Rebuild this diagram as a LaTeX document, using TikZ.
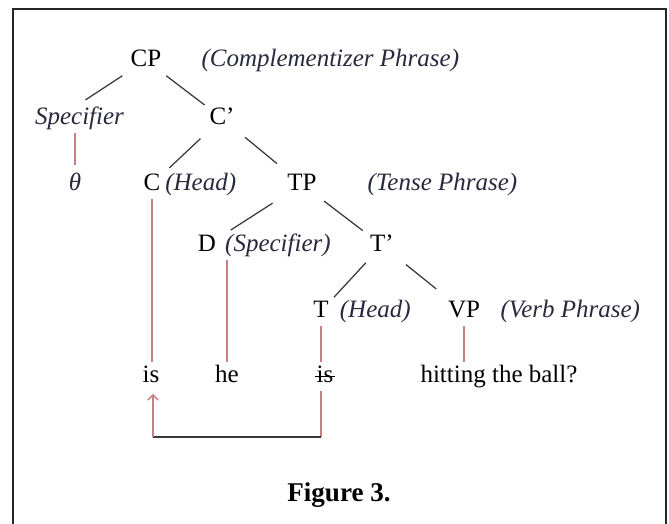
\documentclass[tikz,border=0pt]{standalone}
\usepackage{fontspec}
\setmainfont{Liberation Serif}
\usetikzlibrary{positioning, calc, arrows.meta}
\definecolor{framegray}{rgb}{0.15, 0.15, 0.15}
\definecolor{branchgray}{rgb}{0.22, 0.22, 0.22}
\definecolor{stemrose}{rgb}{0.78, 0.50, 0.50}
\definecolor{glossslate}{rgb}{0.16, 0.16, 0.24}

\tikzset{
    cat/.style={inner sep=1pt, text height=8.5pt, text depth=3pt, font=\fontsize{12pt}{14pt}\selectfont},
    gloss/.style={cat, font=\fontsize{12pt}{14pt}\selectfont\itshape, text=glossslate},
    branch/.style={draw=branchgray, line width=0.6pt, shorten <=#1, shorten >=#1},
    branch/.default=3pt,
    stem/.style={draw=stemrose, line width=0.7pt},
}

\begin{document}
\begin{tikzpicture}[x=0.48pt, y=-0.48pt]
    \useasboundingbox (0,0) rectangle (669,524);
    \draw[framegray, line width=1.3pt] (13,530) -- (13,9) -- (666,9) -- (666,530);

    % categories, row by row
    \node[cat, anchor=base] (CP) at (146,66) {CP};
    \node[gloss, anchor=base west] (CPgloss) at (199,66) {(Complementizer Phrase)};

    \node[gloss, anchor=base] (Spec) at (79.5,124) {Specifier};
    \node[cat, anchor=base] (Cbar) at (222,124) {C’};

    \node[gloss, anchor=base] (th) at (75,190) {θ};
    \node[cat, anchor=base] (C) at (152,190) {C};
    \node[gloss, right=0pt of C] (Chead) {(Head)};
    \node[cat, anchor=base] (TP) at (302,190) {TP};
    \node[gloss, anchor=base west] (TPgloss) at (365,190) {(Tense Phrase)};

    \node[cat, anchor=base] (D) at (207,251) {D};
    \node[gloss, right=2pt of D] (Dspec) {(Specifier)};
    \node[cat, anchor=base] (Tbar) at (382,251) {T’};

    \node[cat, anchor=base] (T) at (321,317) {T};
    \node[gloss, right=3pt of T] (Thead) {(Head)};
    \node[cat, anchor=base] (VP) at (464,317) {VP};
    \node[gloss, anchor=base west] (VPgloss) at (498,317) {(Verb Phrase)};

    % the sentence
    \node[cat, anchor=base] (is) at (151,382) {is};
    \node[cat, anchor=base] (he) at (227,382) {he};
    \node[cat, anchor=base] (sis) at (325,382) {is};
    \node[cat, anchor=base] (hit) at (499,382) {hitting the ball?};
    \draw[line width=0.5pt] ($(sis.base west)+(1,-5.5)$) -- ($(sis.base east)+(-1,-5.5)$);

    \node[anchor=base, font=\fontsize{13pt}{15pt}\selectfont\bfseries] (fig) at (339,501) {Figure 3.};

    % branches
    \draw[branch=3.4pt] (CP) -- (Spec.north);
    \draw[branch=1.5pt] (CP) -- (Cbar);
    \draw[branch=4.3pt] (Cbar) -- (C);
    \draw[branch=5pt] (Cbar) -- (TP);
    \draw[branch=7pt] (TP) -- (D);
    \draw[branch=3pt] (TP) -- (Tbar);
    \draw[branch=2pt] (Tbar) -- (T);
    \draw[branch=6pt] (Tbar) -- (VP);

    % down to the words
    \draw[stem, shorten >=2.5pt] (th |- Spec.south) -- (th);
    \draw[stem] (C) -- (C |- is.north);
    \draw[stem] (he |- D.south) -- (he);
    \draw[stem] (T) -- (T |- sis.north);
    \draw[stem] (VP) -- (VP |- hit.north);

    % T-to-C movement
    \coordinate (mvR) at (321,437);
    \coordinate (mvL) at (153,437);
    \draw[stem] (mvR |- sis.south) -- (mvR);
    \draw[draw=branchgray, line width=1pt] (mvR) -- (mvL);
    \draw[stem, -{Straight Barb[length=2.5pt, width=5pt]}, shorten >=1.5pt] (mvL) -- (mvL |- is.south);
\end{tikzpicture}
\end{document}
